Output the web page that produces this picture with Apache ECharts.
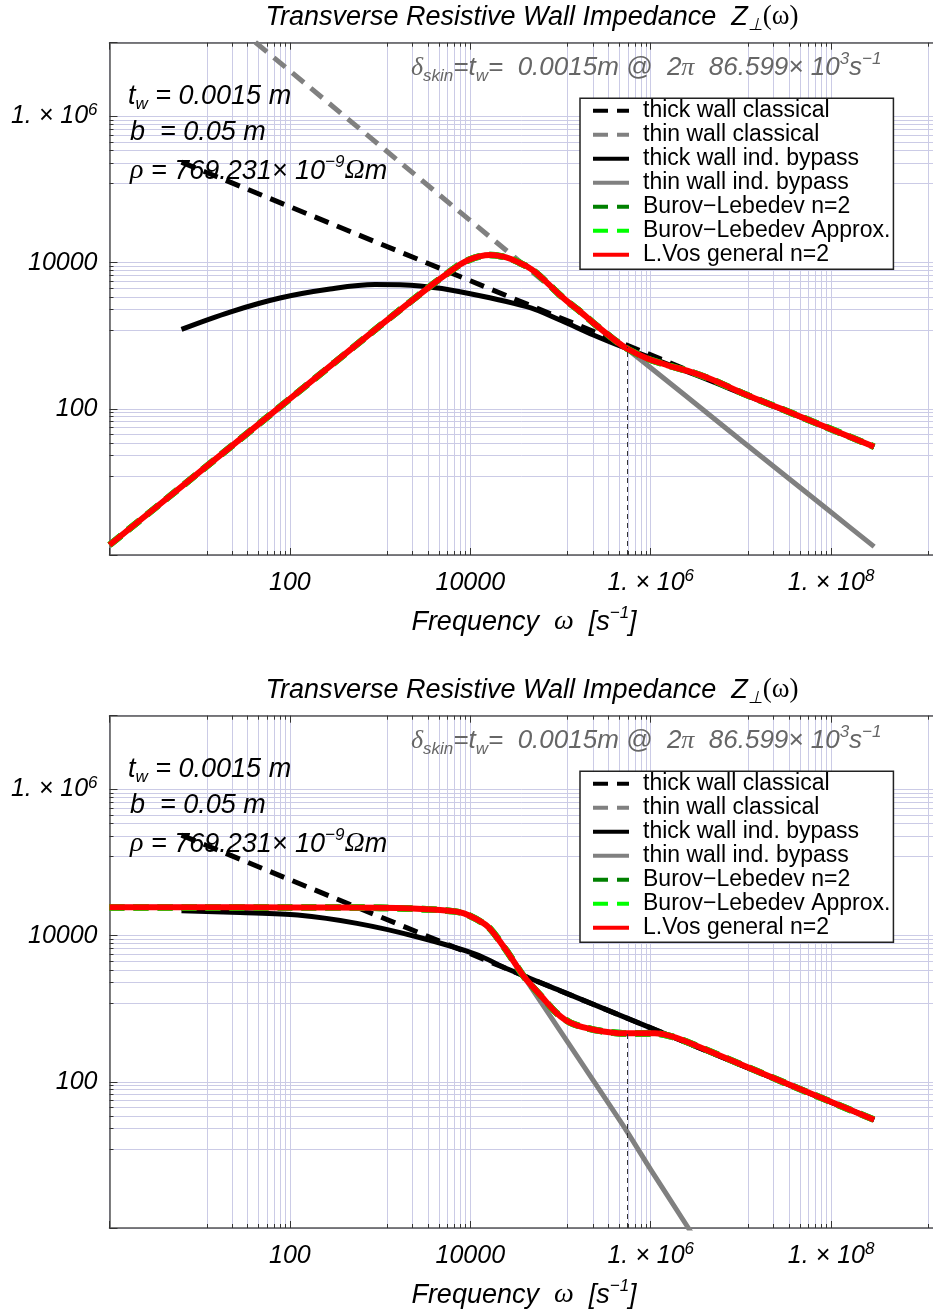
<!DOCTYPE html>
<html>
<head>
<meta charset="utf-8">
<script src="https://cdn.jsdelivr.net/npm/echarts@6/dist/echarts.min.js"></script>
<style>
html,body{margin:0;padding:0;background:#fff;}
#c{width:933px;height:1312px;}
</style>
</head>
<body>
<div id="c"></div>
<script>
// ================= DATA =================
// [omega (s^-1), |Z| ] pairs
const thickClassical = [[6.283,237000],[100,58200],[1e4,5640],[1e6,546],[1e8,52.8],[3e8,30.4]];
const thinClassicalTop = [[6.283,7.14e7],[100,4.2e6],[1e4,3.76e4],[4e5,861]];

const thickBypassTop = [[6.283,1224],[21.7,2110],[77.6,3281],[278.6,4355],[877,5012],[2767,4786],[7690,4000],
  [42170,2494],[98620,1641],[231200,1023],[532100,673],[3.16e6,290],[1e7,164],[1e8,52.2],[3e8,30.3]];
const vosTop = [[1,1.371],[10,13.71],[100,137.1],[1000,1371],[3981,5248],[5623,7161],[7691,9441],[1e4,11090],
  [12590,12160],[16520,12710],[22390,12160],[28180,11220],[35480,9886],[42170,8913],[52480,7413],[70310,5370],
  [1e5,3548],[127400,2754],[158500,2239],[231200,1496],[384600,901.6],[532100,679.2],[903600,490.9],
  [1.507e6,397.2],[2.723e6,322.1],[4.92e6,247.7],[1.161e7,154.5],[2.71e7,101.6],[3e8,30.3]];
const thinBypassTop = [[1,1.371],[10,13.71],[100,137.1],[1000,1371],[3981,5248],[5623,7161],[7691,9441],[1e4,11090],
  [12590,12160],[16520,12710],[22390,12160],[28180,11220],[35480,9886],[42170,8913],[52480,7413],[70310,5370],
  [1e5,3548],[127400,2754],[158500,2239],[231200,1496],[384600,901.6],[532100,679.2],[1e7,37.2],[1e8,3.84],[3e8,1.30]];
const burovTop = vosTop;
const burovApproxTop = vosTop;

const thickBypassBot = [[6.283,21930],[28,20700],[121.6,19140],[554.6,14720],[2547,9661],[11560,5560],[25120,3548],
  [1e5,1754],[1e6,546],[1e7,170],[1e8,52.8],[3e8,30.3]];
const vosBot = [[1,24380],[10,24380],[100,24270],[1000,23990],[4613,22390],[8511,20180],[15700,13240],[24900,6353],
  [39360,2742],[61940,1459],[90360,873],[130600,637],[241500,512],[518800,460],[1.112e6,460],[1.75e6,414],
  [2.76e6,336.5],[3.16e7,95.5],[3e8,30.3]];
const thinBypassBot = [[1,24380],[10,24380],[100,24270],[1000,23990],[4613,22390],[8511,20180],[15700,13240],[24900,6353],
  [39360,2742],[63100,1146],[158500,209],[518800,23.1],[1e6,6.3],[2.56e6,1.04],[3.98e6,0.44]];
const burovBot = vosBot;
const burovApproxBot = vosBot;

const skinOmega = 544113;          // 2π · 86.599e3
const skinTopZ = [700, 465];       // top of the vertical dashed marker, per panel

const xTickValues = [100, 1e4, 1e6, 1e8];
const xTickLabels = ['100', '10000', '1. \u00D7 10^6', '1. \u00D7 10^8'];
const yTickValues = [100, 1e4, 1e6];
const yTickLabels = ['100', '10000', '1. \u00D7 10^6'];

const legendNames = ['thick wall classical','thin wall classical','thick wall ind. bypass','thin wall ind. bypass',
  'Burov\u2212Lebedev n=2','Burov\u2212Lebedev Approx.','L.Vos general n=2'];

// ================= STYLE =================
const SANS = "'Liberation Sans', Arial, Helvetica, sans-serif";
const SERIF = "'Liberation Serif', 'Times New Roman', serif";
const GRID = '#cbcbe6';
const FRAME = '#555555';
const TICK = '#333333';
const X_MIN = 1, X_MAX = 1e10, Y_MIN = 1, Y_MAX = 1.02e7;
const LEFT = 109.5, PW = 902, PH = 512.3;
const TOPS = [42.7, 715.7];
const OFF = [0, 673];

function toRich(s) {
  const i = s.indexOf('^');
  if (i < 0) return '{n|' + s + '}';
  return '{n|' + s.slice(0, i) + '}{sup|' + s.slice(i + 1) + '}';
}
const labelRich = {
  n: {fontFamily: SANS, fontStyle: 'italic', fontSize: 25, color: '#000', lineHeight: 30, verticalAlign: 'middle'},
  sup: {fontFamily: SANS, fontStyle: 'italic', fontSize: 17, color: '#000', lineHeight: 16, verticalAlign: 'top'}
};
function fmt(values, labels) {
  return function (v) {
    for (let i = 0; i < values.length; i++) {
      if (Math.abs(Math.log10(v) - Math.log10(values[i])) < 1e-6) return toRich(labels[i]);
    }
    return '';
  };
}

function xAx(gi, pos) {
  const bottom = pos === 'bottom';
  return {
    type: 'log', logBase: 100, gridIndex: gi, position: pos, min: X_MIN, max: X_MAX,
    axisLine: {show: true, onZero: false, lineStyle: {color: FRAME, width: 1.5}},
    axisTick: {show: true, inside: true, length: 7, lineStyle: {color: TICK, width: 1}},
    minorTick: {show: true, splitNumber: 9, length: 4, lineStyle: {color: TICK, width: 1}},
    splitLine: {show: bottom, lineStyle: {color: GRID, width: 1}},
    minorSplitLine: {show: bottom, lineStyle: {color: GRID, width: 1}},
    axisLabel: bottom ? {show: true, margin: 13, formatter: fmt(xTickValues, xTickLabels), rich: labelRich,
      showMinLabel: false, showMaxLabel: false, hideOverlap: false} : {show: false},
    axisPointer: {show: false}
  };
}
function yAx(gi) {
  return {
    type: 'log', logBase: 100, gridIndex: gi, position: 'left', min: Y_MIN, max: Y_MAX,
    axisLine: {show: true, onZero: false, lineStyle: {color: FRAME, width: 1.5}},
    axisTick: {show: true, inside: true, length: 8, lineStyle: {color: TICK, width: 1}},
    minorTick: {show: true, splitNumber: 9, length: 4, lineStyle: {color: TICK, width: 1}},
    splitLine: {show: true, lineStyle: {color: GRID, width: 1}},
    minorSplitLine: {show: true, lineStyle: {color: GRID, width: 1}},
    axisLabel: {show: true, margin: 12, formatter: fmt(yTickValues, yTickLabels), rich: labelRich,
      showMinLabel: false, showMaxLabel: false, hideOverlap: false},
    axisPointer: {show: false}
  };
}

function ser(name, data, color, width, dash, panel, smooth) {
  return {
    type: 'line', name: name, data: data,
    xAxisIndex: panel === 0 ? 0 : 2, yAxisIndex: panel,
    symbol: 'none', showSymbol: false, smooth: smooth || false, clip: true, silent: true,
    lineStyle: {color: color, width: width, type: dash ? [15, 9] : 'solid', cap: 'butt', join: 'round'},
    itemStyle: {color: color, borderWidth: 0},
    emphasis: {disabled: true}
  };
}
function marker(panel) {
  return {
    silent: true, symbol: ['none', 'none'], label: {show: false}, animation: false,
    lineStyle: {color: '#333', width: 1, type: [5, 4]},
    data: [[{coord: [skinOmega, Y_MIN]}, {coord: [skinOmega, skinTopZ[panel]]}]]
  };
}

const series = [];
// top panel
let s0 = ser(legendNames[0], thickClassical, '#000', 5, true, 0);
s0.markLine = marker(0);
series.push(s0);
series.push(ser(legendNames[1], thinClassicalTop, '#808080', 5, true, 0));
series.push(ser(legendNames[2], thickBypassTop, '#000', 5, false, 0, 0.35));
series.push(ser(legendNames[3], thinBypassTop, '#808080', 5, false, 0, 0.25));
series.push(ser(legendNames[4], burovTop, '#008000', 6.6, true, 0, 0.25));
series.push(ser(legendNames[5], burovApproxTop, '#00ff00', 6.6, true, 0, 0.25));
series.push(ser(legendNames[6], vosTop, '#ff0000', 6, false, 0, 0.25));
// bottom panel
let s1 = ser(legendNames[0], thickClassical, '#000', 5, true, 1);
s1.markLine = marker(1);
series.push(s1);
series.push(ser(legendNames[2], thickBypassBot, '#000', 5, false, 1, 0.3));
series.push(ser(legendNames[3], thinBypassBot, '#808080', 5, false, 1, 0.25));
series.push(ser(legendNames[4], burovBot, '#008000', 6.6, true, 1, 0.25));
series.push(ser(legendNames[5], burovApproxBot, '#00ff00', 6.6, true, 1, 0.25));
series.push(ser(legendNames[6], vosBot, '#ff0000', 6, false, 1, 0.25));

const DASH_ICON = 'path://M0,0H15V4H0Z M24,0H36V4H24Z';
const SOLID_ICON = 'path://M0,0H36V4H0Z';
const legendIcons = [DASH_ICON, DASH_ICON, SOLID_ICON, SOLID_ICON, DASH_ICON, DASH_ICON, SOLID_ICON];
function legend(panel) {
  return {
    show: true, orient: 'vertical', left: 580, top: 98.3 + OFF[panel],
    itemWidth: 36, itemHeight: 4, itemGap: 1, padding: [1, 3, 3, 13],
    borderColor: '#222', borderWidth: 1.5, backgroundColor: '#fff',
    selectedMode: false, symbolKeepAspect: false,
    itemStyle: {borderWidth: 0},
    textStyle: {fontFamily: SANS, fontSize: 23, color: '#000', lineHeight: 22.6, padding: [0, 0, 0, 9]},
    data: legendNames.map(function (n, i) { return {name: n, icon: legendIcons[i]}; })
  };
}

const R = {
  i: {fontFamily: SANS, fontStyle: 'italic', fontSize: 27, fill: '#000', lineHeight: 34, verticalAlign: 'middle'},
  g: {fontFamily: SERIF, fontStyle: 'italic', fontSize: 28, fill: '#000', lineHeight: 34, verticalAlign: 'middle'},
  sub: {fontFamily: SANS, fontStyle: 'italic', fontSize: 17, fill: '#000', lineHeight: 14, verticalAlign: 'bottom'},
  sup: {fontFamily: SANS, fontStyle: 'italic', fontSize: 17, fill: '#000', lineHeight: 20, verticalAlign: 'top'}
};
function richColored(col, size) {
  const o = {};
  Object.keys(R).forEach(function (k) {
    o[k] = Object.assign({}, R[k], {fill: col});
    if (size && (k === 'i' || k === 'g')) o[k].fontSize = size;
  });
  return o;
}
function txt(x, y, text, align, col, size) {
  return {
    type: 'text', x: x, y: y, silent: true, z: 100,
    style: {text: text, rich: richColored(col || '#000', size), align: align || 'left', verticalAlign: 'middle',
      font: 'italic 27px ' + SANS, fill: col || '#000'}
  };
}
const graphics = [];
[0, 1].forEach(function (p) {
  const o = OFF[p];
  const t = txt(532, 17 + o,
    '{i|Transverse Resistive Wall Impedance  Z}{sub|\u22A5}{p|(\u03C9)}', 'center', '#000', 27);
  t.style.rich.p = {fontFamily: SERIF, fontSize: 27, fill: '#000', lineHeight: 34, verticalAlign: 'middle'};
  graphics.push(t);
  graphics.push(txt(128, 96 + o, '{i|t}{sub|w}{i| = 0.0015 m}'));
  graphics.push(txt(130, 132 + o, '{i|b  = 0.05 m}'));
  graphics.push(txt(130, 171 + o, '{g|\u03C1}{i| = 769.231\u00D7 10}{sup|\u22129}{g|\u03A9}{i|m}'));
  graphics.push(txt(411, 68 + o,
    '{g|\u03B4}{sub|skin}{i|=t}{sub|w}{i|=  0.0015m @  2}{g|\u03C0}{i|  86.599\u00D7 10}{sup|3}{i|s}{sup|\u22121}', 'left', '#666666', 26));
  graphics.push(txt(524, 622 + o, '{i|Frequency  }{g|\u03C9}{i|  [s}{sup|\u22121}{i|]}', 'center'));
});

const option = {
  animation: false,
  backgroundColor: '#ffffff',
  grid: [
    {left: LEFT, top: TOPS[0], width: PW, height: PH, containLabel: false, outerBoundsMode: 'none'},
    {left: LEFT, top: TOPS[1], width: PW, height: PH, containLabel: false, outerBoundsMode: 'none'}
  ],
  xAxis: [xAx(0, 'bottom'), xAx(0, 'top'), xAx(1, 'bottom'), xAx(1, 'top')],
  yAxis: [yAx(0), yAx(1)],
  legend: [legend(0), legend(1)],
  tooltip: {show: false},
  series: series,
  graphic: graphics
};
const chart = echarts.init(document.getElementById('c'), null, {renderer: 'canvas'});
chart.setOption(option);
</script>
</body>
</html>
